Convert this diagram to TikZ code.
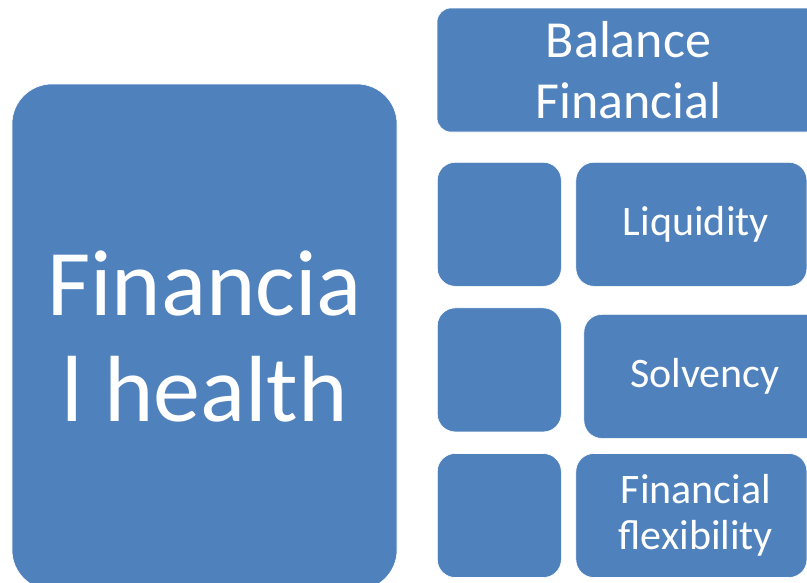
\documentclass[tikz,border=0pt]{standalone}
\usepackage{fontspec}
\setmainfont{Carlito}
\usetikzlibrary{positioning}
\definecolor{tileblue}{HTML}{4F81BD}

\begin{document}
\begin{tikzpicture}[x=1pt,y=-1pt]
    \tikzset{tile/.style= {fill=tileblue, draw=white, line width=0.6pt, text=white, align=center, inner sep=0pt, rounded corners=18pt},
             side/.style= {tile, minimum width=124pt, minimum height=124pt},
             item/.style= {tile, minimum height=124pt, font=\fontsize{42}{46}\selectfont},}

    \useasboundingbox (0,0) rectangle (807,582);
    \clip (0,0) rectangle (807,582);

    \node [tile, rounded corners=40pt, minimum width=385pt, minimum height=506pt,
           font=\fontsize{94}{106}\selectfont] (health) at (204.5,337) {Financia\\l health};
    \node [tile, rounded corners=14pt, minimum width=383pt, minimum height=124pt,
           font=\fontsize{52}{61}\selectfont] (bal) at (628.5,70) {Balance\\Financial};

    \node [side, anchor=north west] (sq1) at (437,162) {};
    \node [side, below =21pt of sq1] (sq2) {};
    \node [side, below =21pt of sq2] (sq3) {};

    \node [item, minimum width=231pt, right =14pt of sq1] (liq) {\hspace*{9pt}Liquidity};
    \node [item, minimum width=242pt, right =22pt of sq2, yshift=-6.5pt] (solv) {Solvency};
    \node [item, minimum width=231pt, right =14pt of sq3] (flex) {\hspace*{9pt}Financial\\\hspace*{9pt}flexibility};
\end{tikzpicture}
\end{document}
